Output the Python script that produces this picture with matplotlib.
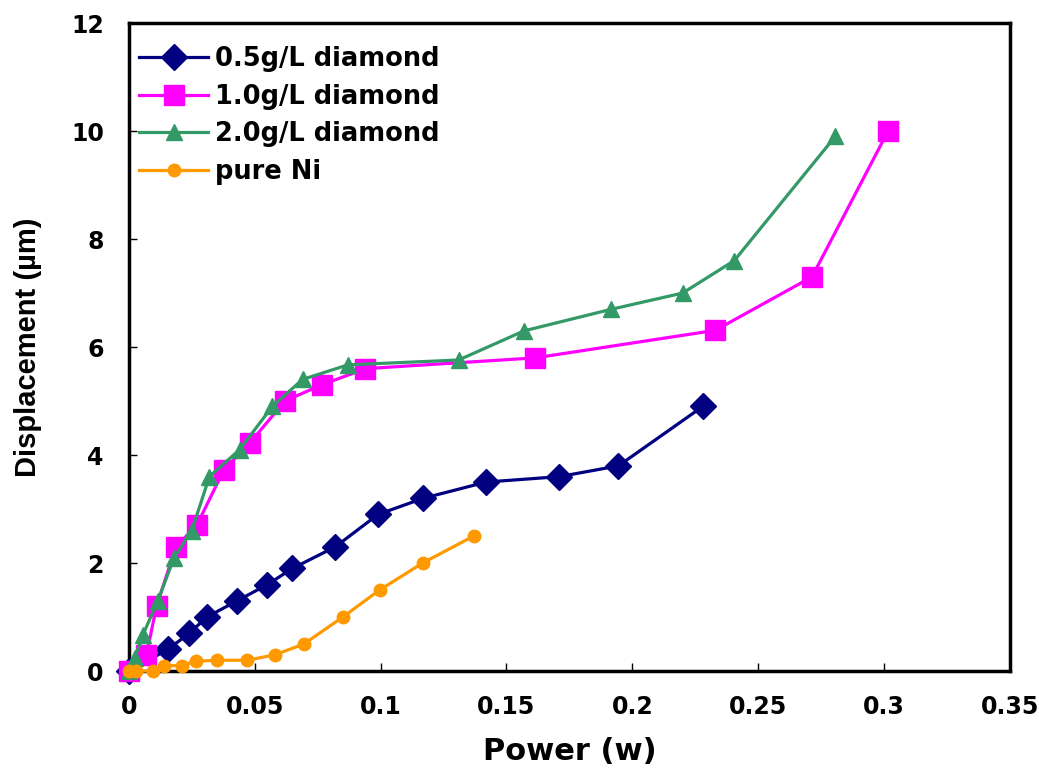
import matplotlib
matplotlib.use("Agg")
import matplotlib.pyplot as plt

plt.rcParams['font.family'] = ['DejaVu Sans']
plt.rcParams['font.weight'] = 'bold'

# power (w) and displacement (um)
p_05 = [0.0, 0.0155, 0.024, 0.031, 0.043, 0.055, 0.065, 0.082, 0.099, 0.117, 0.142, 0.171, 0.1945, 0.228]
d_05 = [0.0, 0.4, 0.7, 1.0, 1.3, 1.6, 1.9, 2.3, 2.9, 3.2, 3.5, 3.6, 3.8, 4.9]

p_10 = [0.0, 0.007, 0.011, 0.0187, 0.027, 0.0377, 0.048, 0.062, 0.0766, 0.094, 0.1615, 0.233, 0.2714, 0.3016]
d_10 = [0.0, 0.3, 1.2, 2.3, 2.7, 3.72, 4.22, 5.0, 5.3, 5.6, 5.8, 6.31, 7.3, 10.0]

p_20 = [0.0, 0.0024, 0.0056, 0.0115, 0.018, 0.025, 0.032, 0.044, 0.057, 0.069, 0.087, 0.131, 0.157, 0.1917, 0.22, 0.2405, 0.2806]
d_20 = [0.0, 0.25, 0.67, 1.3, 2.1, 2.6, 3.6, 4.1, 4.9, 5.4, 5.67, 5.76, 6.3, 6.7, 7.0, 7.6, 9.9]

p_ni = [0.0, 0.003, 0.0095, 0.014, 0.021, 0.0265, 0.035, 0.047, 0.058, 0.0695, 0.085, 0.0996, 0.1167, 0.137]
d_ni = [0.0, 0.0, 0.0, 0.1, 0.1, 0.18, 0.2, 0.2, 0.3, 0.5, 1.0, 1.5, 2.0, 2.5]

x_ticks = [0, 0.05, 0.1, 0.15, 0.2, 0.25, 0.3, 0.35]
x_labels = ['0', '0.05', '0.1', '0.15', '0.2', '0.25', '0.3', '0.35']
y_ticks = [0, 2, 4, 6, 8, 10, 12]

fig = plt.figure(figsize=(10.39, 7.69), dpi=100)
ax = fig.add_axes([0.124, 0.1274, 0.848, 0.8426])

ax.plot(p_05, d_05, color='#000080', lw=2.3, marker='D', ms=13, label='0.5g/L diamond', clip_on=False)
ax.plot(p_10, d_10, color='#FF00FF', lw=2.3, marker='s', ms=14, label='1.0g/L diamond', clip_on=False)
ax.plot(p_20, d_20, color='#339966', lw=2.3, marker='^', ms=11, label='2.0g/L diamond', clip_on=False)
ax.plot(p_ni, d_ni, color='#FF9900', lw=2.3, marker='o', ms=9, label='pure Ni', clip_on=False)

ax.set_xlim(0, 0.35)
ax.set_ylim(0, 12)
ax.set_xticks(x_ticks)
ax.set_xticklabels(x_labels)
ax.set_yticks(y_ticks)
ax.tick_params(direction='in', length=6, width=1, labelsize=17)
ax.tick_params(axis='x', pad=17)
ax.tick_params(axis='y', pad=18)
for s in ax.spines.values():
    s.set_linewidth(2.5)
    s.set_zorder(1)

ax.set_xlabel('Power (w)', fontsize=22, fontweight='bold', labelpad=13)
ax.set_ylabel('Displacement (\u00b5m)', fontsize=21, fontweight='bold', labelpad=21,
              family=['Liberation Sans', 'DejaVu Sans'])

ax.legend(loc='upper left', bbox_to_anchor=(0.0, 0.98), frameon=False, fontsize=18.5,
          handlelength=2.7, handletextpad=0.25, labelspacing=0.45, borderaxespad=0.0,
          borderpad=0.4)

fig.savefig('out.png', dpi=100)
